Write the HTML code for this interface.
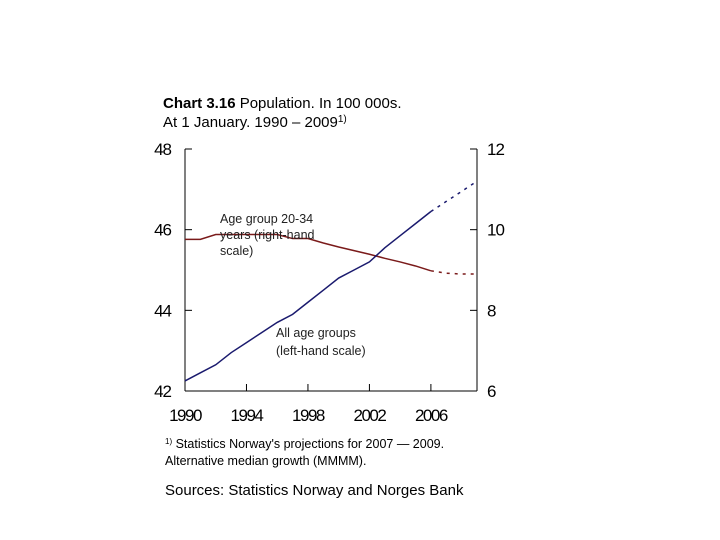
<!DOCTYPE html>
<html><head><meta charset="utf-8"><style>
body{margin:0;background:#fff;width:720px;height:540px;overflow:hidden;font-family:"Liberation Sans",sans-serif}
svg{position:absolute;left:0;top:0}
</style></head><body>
<svg width="720" height="540">
<text x="163" y="108" font-size="15"><tspan font-weight="bold">Chart 3.16</tspan> Population. In 100 000s.</text>
<text x="163" y="127" font-size="15">At 1 January. 1990 – 2009<tspan font-size="10" dy="-5">1)</tspan></text>
<g id="axes"></g>
<g id="series"></g>
<text font-size="12.5" fill="#222"><tspan x="220" y="223">Age group 20-34</tspan><tspan x="220" y="239">years (right-hand</tspan><tspan x="220" y="255">scale)</tspan></text>
<text font-size="12.5" fill="#222"><tspan x="276" y="337">All age groups</tspan><tspan x="276" y="355">(left-hand scale)</tspan></text>
<text x="165" y="448" font-size="12.5"><tspan font-size="8" dy="-4">1)</tspan><tspan dy="4"> Statistics Norway's projections for 2007 — 2009.</tspan></text>
<text x="165" y="465" font-size="12.5">Alternative median growth (MMMM).</text>
<text x="165" y="495" font-size="15">Sources: Statistics Norway and Norges Bank</text>
</svg>
<script>
const years=[1990,1991,1992,1993,1994,1995,1996,1997,1998,1999,2000,2001,2002,2003,2004,2005,2006,2007,2008,2009];
const allAges=[42.25,42.45,42.65,42.95,43.2,43.45,43.7,43.9,44.2,44.5,44.8,45.0,45.2,45.55,45.85,46.15,46.45,46.7,46.95,47.2];
const ageGroup=[9.76,9.76,9.88,9.88,9.88,9.88,9.88,9.78,9.78,9.67,9.57,9.48,9.39,9.29,9.2,9.1,8.98,8.92,8.9,8.9];
const lastActual=2006;
const leftTicks=[42,44,46,48];
const rightTicks=[6,8,10,12];
const xTicks=[1990,1994,1998,2002,2006];
const NS="http://www.w3.org/2000/svg";
const X0=185,X1=477,YT=149,YB=391;
const x=y=>X0+(y-1990)*(X1-X0)/19;
const yl=v=>YB-(v-42)*(YB-YT)/6;
const yr=v=>YB-(v-6)*(YB-YT)/6;
function mk(t,a,p){const e=document.createElementNS(NS,t);for(const k in a)e.setAttribute(k,a[k]);p.appendChild(e);return e;}
const ax=document.getElementById('axes'),se=document.getElementById('series');
let l=mk('line',{x1:X0,y1:YT,x2:X0,y2:YB,stroke:'#000'},ax);


l=mk('line',{x1:X1,y1:YT,x2:X1,y2:YB,stroke:'#000'},ax);


l=mk('line',{x1:X0,y1:YB,x2:X1,y2:YB,stroke:'#000'},ax);


leftTicks.forEach(v=>{mk('line',{x1:X0,y1:yl(v),x2:X0+7,y2:yl(v),stroke:'#000'},ax);
 const t=mk('text',{x:X0-14,y:yl(v)+6,'font-size':17,'text-anchor':'end','letter-spacing':'-1'},ax);t.textContent=v;
 
 });
rightTicks.forEach(v=>{mk('line',{x1:X1-7,y1:yr(v),x2:X1,y2:yr(v),stroke:'#000'},ax);
 const t=mk('text',{x:X1+10,y:yr(v)+6,'font-size':17,'letter-spacing':'-1'},ax);t.textContent=v;
 
 });
xTicks.forEach(v=>{mk('line',{x1:x(v),y1:YB,x2:x(v),y2:YB-7,stroke:'#000'},ax);
 const t=mk('text',{x:x(v),y:YB+30,'font-size':17,'text-anchor':'middle','letter-spacing':'-1.5'},ax);t.textContent=v;
 
 });
function draw(vals,sc,col,name){
 const idx=years.indexOf(lastActual);
 const a=years.slice(0,idx+1).map((y,i)=>x(y)+','+sc(vals[i])).join(' ');
 const b=years.slice(idx).map((y,i)=>x(y)+','+sc(vals[idx+i])).join(' ');
 let p=mk('polyline',{points:a,fill:'none',stroke:col,'stroke-width':1.5},se);
 
 
 p=mk('polyline',{points:b,fill:'none',stroke:col,'stroke-width':1.5,'stroke-dasharray':'3 5'},se);
 
 
}
draw(ageGroup,yr,'#7a1a1a','age-group-20-34');
draw(allAges,yl,'#1a1a6e','all-age-groups');
</script>
</body></html>
